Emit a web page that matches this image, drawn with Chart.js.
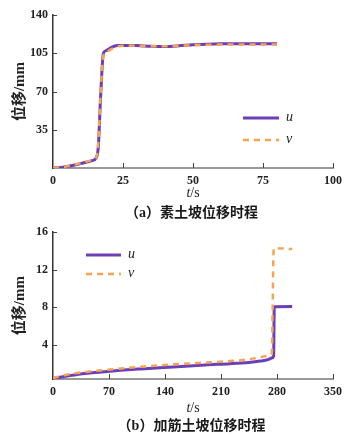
<!DOCTYPE html>
<html>
<head>
<meta charset="utf-8">
<script src="https://cdn.jsdelivr.net/npm/chart.js@4.4.1/dist/chart.umd.min.js"></script>
<style>
  body { margin: 0; background: #fff; width: 363px; height: 435px; position: relative; overflow: hidden; }
  canvas { position: absolute; left: 0; }
  #chartA { top: 0; }
  #chartB { top: 220px; }
  .caption { position: absolute; left: 10px; width: 363px; text-align: center;
             font: bold 14px "Liberation Serif", "Times New Roman", "Noto Sans CJK SC", serif; color: #1a1a1a; }
</style>
</head>
<body>
<canvas id="chartA" width="363" height="200"></canvas>
<canvas id="chartB" width="363" height="200"></canvas>
<div class="caption" style="top:201px">（a）素土坡位移时程</div>
<div class="caption" style="top:414px">（b）加筋土坡位移时程</div>
<script>
// (a) plain soil slope: time in s, displacement in mm
const timeA = [0, 3, 6, 10, 14, 15.5, 16.2, 17, 18, 19, 21, 23, 26, 30, 35, 40, 45, 50, 55, 60, 65, 70, 75, 80];
const uA = [0, 0.5, 1.8, 4.2, 6.8, 9.5, 20, 65, 105, 107.5, 110.5, 112, 112.2, 112, 111.4, 111.2, 111.8, 112.8, 113.3, 113.6, 113.7, 113.8, 113.8, 113.8];
const vA = [0, 0.6, 2, 4.5, 7.2, 10, 24, 68, 103, 106, 109, 111.2, 112, 111.8, 111.5, 111.4, 111.8, 112.4, 112.7, 112.9, 113, 113, 113, 113];
const xTicksA = [0, 25, 50, 75, 100];
const yTicksA = [35, 70, 105, 140];

// (b) reinforced slope
const timeBu = [0, 20, 40, 75, 110, 150, 190, 221, 245, 259, 267, 271, 274, 275.8, 276.6, 299];
const uB = [0.42, 0.7, 0.94, 1.21, 1.42, 1.63, 1.85, 1.98, 2.12, 2.26, 2.38, 2.5, 2.62, 2.8, 8.05, 8.07];
const timeBv = [0, 20, 40, 75, 110, 150, 190, 221, 245, 259, 267, 271, 273.5, 274.6, 275.5, 276.5, 299];
const vB = [0.45, 0.85, 1.1, 1.39, 1.65, 1.91, 2.1, 2.26, 2.45, 2.67, 2.82, 2.92, 3.1, 8, 13.5, 14.3, 14.2];
const xTicksB = [0, 70, 140, 210, 280, 350];
const yTicksB = [4, 8, 12, 16];

const seriesNames = ['u', 'v'];
const uColor = '#6a3fb8';
const vColor = '#f7a350';
const serif = '"Liberation Serif", "Times New Roman", serif';
const tickFont = { family: serif, size: 12, weight: 'bold' };

function pairs(xs, ys) {
  return xs.map((x, i) => ({ x: x, y: ys[i] }));
}

// small tick marks pointing into the plot, plus the x title
const innerTicks = {
  id: 'innerTicks',
  afterDraw(chart) {
    const ctx = chart.ctx;
    const xs = chart.scales.x, ys = chart.scales.y;
    const a = chart.chartArea;
    ctx.save();
    ctx.lineWidth = 1;
    ctx.strokeStyle = '#444';
    ctx.beginPath();
    for (const t of xs.ticks) {
      if (t.value === xs.min) continue;
      const px = Math.round(xs.getPixelForValue(t.value)) + 0.5;
      ctx.moveTo(px, a.bottom);
      ctx.lineTo(px, a.bottom - 5);
    }
    for (const t of ys.ticks) {
      if (t.value === ys.min) continue;
      const py = Math.round(ys.getPixelForValue(t.value)) + 0.5;
      ctx.moveTo(a.left, py);
      ctx.lineTo(a.left + 4, py);
    }
    ctx.stroke();
    // x axis title: italic t, upright /s
    const opts = chart.options.plugins.innerTicks;
    const cx = (a.left + a.right) / 2;
    ctx.fillStyle = '#222';
    ctx.textBaseline = 'middle';
    ctx.font = 'italic 14px ' + serif;
    const w1 = ctx.measureText('t').width;
    ctx.font = '14px ' + serif;
    const w2 = ctx.measureText('/s').width;
    const x0 = cx - (w1 + w2) / 2;
    ctx.font = 'italic 14px ' + serif;
    ctx.textAlign = 'left';
    ctx.fillText('t', x0, opts.titleY);
    ctx.font = '14px ' + serif;
    ctx.fillText('/s', x0 + w1, opts.titleY);
    ctx.restore();
  }
};

// legend drawn inside the plot at a fixed spot
const keyLegend = {
  id: 'keyLegend',
  afterDraw(chart) {
    const o = chart.options.plugins.keyLegend;
    const ctx = chart.ctx;
    ctx.save();
    chart.data.datasets.forEach((ds, i) => {
      const y = o.y + i * o.gap;
      ctx.beginPath();
      ctx.strokeStyle = ds.borderColor;
      ctx.lineWidth = ds.borderWidth;
      ctx.setLineDash(ds.borderDash || []);
      ctx.moveTo(o.x, y);
      ctx.lineTo(o.x + o.len, y);
      ctx.stroke();
      ctx.setLineDash([]);
      ctx.fillStyle = '#222';
      ctx.font = 'italic 14px ' + serif;
      ctx.textBaseline = 'middle';
      ctx.fillText(ds.label, o.x + o.len + 7, y - 1);
    });
    ctx.restore();
  }
};

function makeChart(id, d) {
  return new Chart(document.getElementById(id), {
    type: 'line',
    data: {
      datasets: [
        { label: seriesNames[0], data: d.u, borderColor: uColor, borderWidth: 3, order: 1 },
        { label: seriesNames[1], data: d.v, borderColor: vColor, borderWidth: 2.5, borderDash: [6, 5], order: 0 }
      ]
    },
    options: {
      responsive: false,
      animation: false,
      layout: { padding: { top: d.top, right: 30, left: 0, bottom: 0 } },
      elements: {
        point: { radius: 0 },
        line: { cubicInterpolationMode: 'monotone', borderCapStyle: 'butt', borderJoinStyle: 'round' }
      },
      plugins: {
        legend: { display: false },
        tooltip: { enabled: false },
        innerTicks: { titleY: d.titleY },
        keyLegend: d.legend
      },
      scales: {
        x: {
          type: 'linear',
          min: d.xTicks[0],
          max: d.xTicks[d.xTicks.length - 1],
          afterBuildTicks: s => { s.ticks = d.xTicks.map(v => ({ value: v })); },
          afterFit: s => { s.height = d.xHeight; },
          grid: { drawOnChartArea: false, drawTicks: false },
          border: { color: '#999', width: 2 },
          ticks: { font: tickFont, color: '#222', padding: 6, maxRotation: 0 }
        },
        y: {
          min: d.yMin,
          max: d.yTicks[d.yTicks.length - 1],
          afterBuildTicks: s => { s.ticks = d.yTicks.map(v => ({ value: v })); },
          afterFit: s => { s.width = 53; },
          grid: { drawOnChartArea: false, drawTicks: false },
          border: { color: '#333', width: 1.5 },
          ticks: { font: tickFont, color: '#222', padding: 5 },
          title: {
            display: true,
            text: '位移/mm',
            color: '#222',
            font: { family: serif.replace(', serif', ', "Noto Sans CJK SC", serif'), size: 15, weight: 'bold' },
            padding: { top: 11, bottom: 0 }
          }
        }
      }
    },
    plugins: [innerTicks, keyLegend]
  });
}

makeChart('chartA', {
  u: pairs(timeA, uA), v: pairs(timeA, vA),
  xTicks: xTicksA, yTicks: yTicksA, yMin: 0,
  top: 15, xHeight: 32, titleY: 193,
  legend: { x: 243, y: 118, gap: 22, len: 36 }
});

makeChart('chartB', {
  u: pairs(timeBu, uB), v: pairs(timeBv, vB),
  xTicks: xTicksB, yTicks: yTicksB, yMin: 0.35,
  top: 9, xHeight: 41, titleY: 188,
  legend: { x: 86, y: 35, gap: 19, len: 35 }
});
</script>
</body>
</html>
